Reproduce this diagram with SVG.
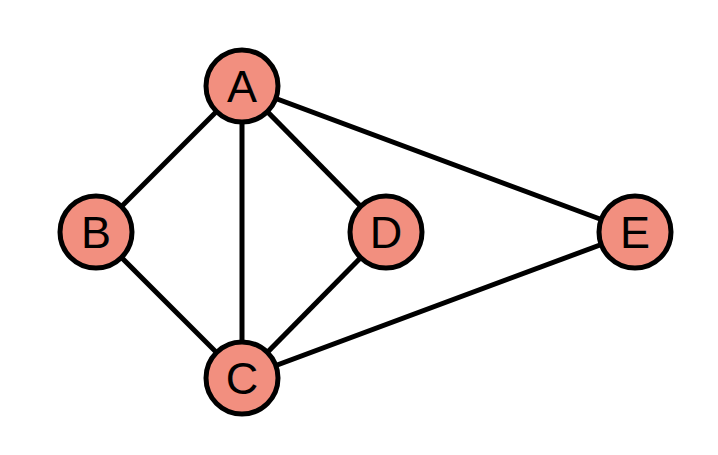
<svg xmlns="http://www.w3.org/2000/svg" width="718" height="455" viewBox="0 0 718 455">
<style>
.edge{stroke:#000;stroke-width:5;fill:none}
.node circle{fill:#F28F7F;stroke:#000;stroke-width:5}
.node text{font-family:"Liberation Sans",Arial,sans-serif;font-size:45px;fill:#000;text-anchor:middle}
</style>
<rect width="718" height="455" fill="#fff"/>
<g id="edges">
<line class="edge" x1="242" y1="86" x2="96" y2="232"/>
<line class="edge" x1="242" y1="86" x2="242" y2="378"/>
<line class="edge" x1="242" y1="86" x2="386" y2="232"/>
<line class="edge" x1="242" y1="86" x2="635" y2="232"/>
<line class="edge" x1="96" y1="232" x2="242" y2="378"/>
<line class="edge" x1="386" y1="232" x2="242" y2="378"/>
<line class="edge" x1="635" y1="232" x2="242" y2="378"/>
</g>
<g id="node-A" class="node"><circle cx="242" cy="86" r="36"/><text x="242" y="102">A</text></g>
<g id="node-B" class="node"><circle cx="96" cy="232" r="36"/><text x="96" y="248">B</text></g>
<g id="node-D" class="node"><circle cx="386" cy="232" r="36"/><text x="386" y="248">D</text></g>
<g id="node-E" class="node"><circle cx="635" cy="232" r="36"/><text x="635" y="248">E</text></g>
<g id="node-C" class="node"><circle cx="242" cy="378" r="36"/><text x="242" y="394">C</text></g>
</svg>
